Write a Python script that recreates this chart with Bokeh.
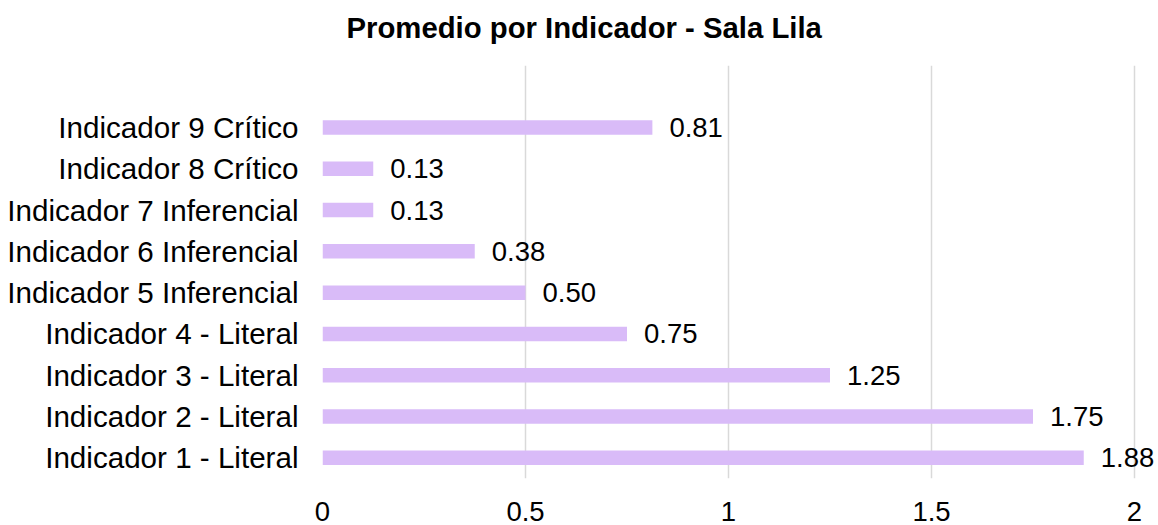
from bokeh.plotting import figure
from bokeh.models import ColumnDataSource, Range1d, FixedTicker, LabelSet, Title
from bokeh.core.properties import value
from bokeh.embed import file_html
from bokeh.resources import INLINE

categories = [
    "Indicador 1 - Literal",
    "Indicador 2 - Literal",
    "Indicador 3 - Literal",
    "Indicador 4 - Literal",
    "Indicador 5 Inferencial",
    "Indicador 6 Inferencial",
    "Indicador 7 Inferencial",
    "Indicador 8 Crítico",
    "Indicador 9 Crítico",
]
values = [1.875, 1.75, 1.25, 0.75, 0.5, 0.375, 0.125, 0.125, 0.8125]
x_ticks = [0, 0.5, 1, 1.5, 2]
x_tick_labels = ["0", "0.5", "1", "1.5", "2"]
title_text = "Promedio por Indicador - Sala Lila"

positions = list(range(1, len(categories) + 1))
labels = [f"{v + 1e-9:.2f}" for v in values]

src = ColumnDataSource(dict(y=positions, v=values, lab=labels))

FONT = "Liberation Sans"

p = figure(
    width=1158, height=525,
    output_backend="svg", toolbar_location=None,
    x_range=Range1d(0, 836 / 406), y_range=Range1d(0.5, 10.5),
    min_border_left=322, min_border_right=0,
    min_border_top=65, min_border_bottom=47,
)
p.outline_line_color = None
p.background_fill_color = "white"
p.border_fill_color = "white"

p.hbar(y="y", right="v", left=0, height=0.35, source=src,
       fill_color="#d9bbf8", line_color=None)

p.add_layout(LabelSet(x="v", y="y", text="lab", source=src,
                      x_offset=17, y_offset=0,
                      text_align="left", text_baseline="middle",
                      text_font=value(FONT), text_font_size="27.5px",
                      text_color="#000000"))

# spacer between title and plot area
p.add_layout(Title(text=" ", text_font_size="1px", standoff=14), "above")

# title
p.title.text = title_text
p.title.text_font = FONT
p.title.text_font_size = "29.3px"
p.title.text_font_style = "bold"
p.title.text_color = "#000000"
p.title.align = "left"
p.title.offset = 24
p.title.standoff = 10

# x axis
xa = p.xaxis[0]
xa.ticker = FixedTicker(ticks=x_ticks)
xa.major_label_overrides = {t: l for t, l in zip(x_ticks, x_tick_labels)}
xa.axis_line_color = None
xa.major_tick_line_color = None
xa.minor_tick_line_color = None
xa.major_tick_out = 0
xa.major_label_standoff = 23
xa.major_label_text_font = FONT
xa.major_label_text_font_size = "27.5px"
xa.major_label_text_color = "#000000"

# y axis
ya = p.yaxis[0]
ya.ticker = FixedTicker(ticks=positions)
ya.major_label_overrides = {pos: c for pos, c in zip(positions, categories)}
ya.axis_line_color = None
ya.major_tick_line_color = None
ya.minor_tick_line_color = None
ya.major_tick_out = 0
ya.major_label_standoff = 24
ya.major_label_text_font = FONT
ya.major_label_text_font_size = "29.6px"
ya.major_label_text_color = "#000000"

p.xgrid.ticker = FixedTicker(ticks=x_ticks)
p.xgrid.grid_line_color = "#d9d9d9"
p.xgrid.grid_line_width = 1.5
p.ygrid.grid_line_color = None

open("out.html", "w").write(file_html(p, INLINE))
